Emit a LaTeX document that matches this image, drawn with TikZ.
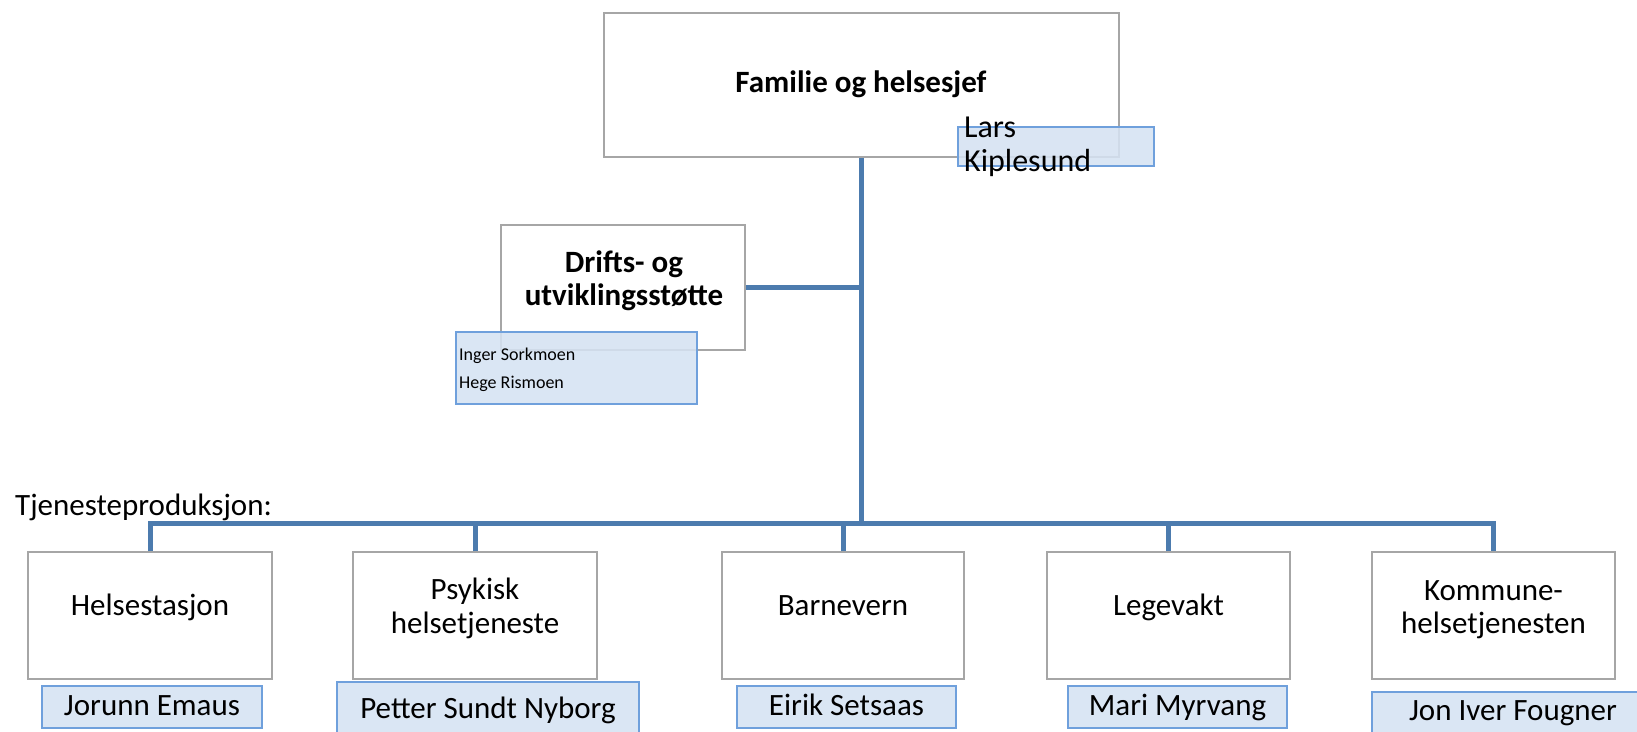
\documentclass[tikz,border=0pt]{standalone}
\usepackage{fontspec}
\setmainfont{Carlito}
\definecolor{conncol}{HTML}{4C7BAE}
\definecolor{framecol}{HTML}{A6A6A6}
\definecolor{namefill}{HTML}{D5E2F2}
\definecolor{nameedge}{HTML}{6FA0DC}
\tikzset{
  orgbox/.style={draw=framecol, line width=1.5pt, fill=white, inner sep=0pt},
  namebox/.style={draw=nameedge, line width=1.5pt, fill=namefill, fill opacity=0.88, draw opacity=1, inner sep=0pt},
  conn/.style={draw=conncol, line width=5pt},
  bigtxt/.style={inner sep=0pt, font=\fontsize{31}{34}\selectfont, align=center},
  boldtxt/.style={inner sep=0pt, font=\fontsize{31}{33}\selectfont\bfseries, align=center},
  smalltxt/.style={inner sep=0pt, font=\fontsize{18}{28}\selectfont, align=left}
}
\begin{document}
\begin{tikzpicture}[x=1pt,y=-1pt]
\useasboundingbox (0,0) rectangle (1637,731);
% top
\node[orgbox, minimum width=515, minimum height=144] (top) at (861.5,85) {};
\node[namebox, minimum width=196, minimum height=39] (lars) at (1056,146.5) {};
\node[boldtxt, anchor=base] (toptxt) at (861,92) {Familie og helsesjef};
\node[bigtxt, align=left, anchor=base west, font=\fontsize{32}{34}\selectfont] (larstxt) at (964,171) {Lars\\Kiplesund};
% drifts
\node[orgbox, minimum width=244, minimum height=125] (dr) at (623,287.5) {};
\node[namebox, minimum width=241, minimum height=72] (ing) at (576.5,368) {};
\node[boldtxt, anchor=base] (drtxt) at (624,305) {Drifts- og\\utviklingsstøtte};
\node[smalltxt, anchor=base west] (ingtxt) at (459,388) {Inger Sorkmoen\\Hege Rismoen};
% label
\node[bigtxt, anchor=base west] (tjen) at (15,515) {Tjenesteproduksjon:};
% children
\node[orgbox, minimum width=244, minimum height=127] (hs) at (150,615.5) {};
\node[orgbox, minimum width=244, minimum height=127] (ps) at (475,615.5) {};
\node[orgbox, minimum width=242, minimum height=127] (bv) at (843,615.5) {};
\node[orgbox, minimum width=243, minimum height=127] (lv) at (1168.5,615.5) {};
\node[orgbox, minimum width=243, minimum height=127] (kh) at (1493.5,615.5) {};
\node[bigtxt, anchor=base] (hstxt) at (150,615) {Helsestasjon};
\node[bigtxt, anchor=base] (pstxt) at (475,633) {Psykisk\\helsetjeneste};
\node[bigtxt, anchor=base] (bvtxt) at (843,615) {Barnevern};
\node[bigtxt, anchor=base] (lvtxt) at (1168.5,615) {Legevakt};
\node[bigtxt, anchor=base, font=\fontsize{31}{33}\selectfont] (khtxt) at (1493.5,633) {Kommune-\\helsetjenesten};
% names
\node[namebox, minimum width=220, minimum height=42] (jo) at (152,707) {};
\node[namebox, minimum width=302, minimum height=53] (pe) at (488,708.5) {};
\node[namebox, minimum width=219, minimum height=42] (ei) at (846.5,707) {};
\node[namebox, minimum width=219, minimum height=42] (ma) at (1177.5,707) {};
\node[namebox, minimum width=282, minimum height=43] (jon) at (1513,713.5) {};
\node[bigtxt, anchor=base] (jotxt) at (152,715) {Jorunn Emaus};
\node[bigtxt, anchor=base] (petxt) at (488,718) {Petter Sundt Nyborg};
\node[bigtxt, anchor=base] (eitxt) at (846.5,715) {Eirik Setsaas};
\node[bigtxt, anchor=base] (matxt) at (1177.5,715) {Mari Myrvang};
\node[bigtxt, anchor=base] (jontxt) at (1513,720) {Jon Iver Fougner};
% connectors
\coordinate (busy) at (0,523);
\draw[conn] (top.south) -- (top.south |- busy);
\draw[conn] (dr.east) -- (dr.east -| top.south);
\draw[conn, line join=miter] (hs.north) -- (hs.north |- busy) -- (kh.north |- busy) -- (kh.north);
\draw[conn] (ps.north) -- (ps.north |- busy);
\draw[conn] (bv.north) -- (bv.north |- busy);
\draw[conn] (lv.north) -- (lv.north |- busy);
\end{tikzpicture}
\end{document}
